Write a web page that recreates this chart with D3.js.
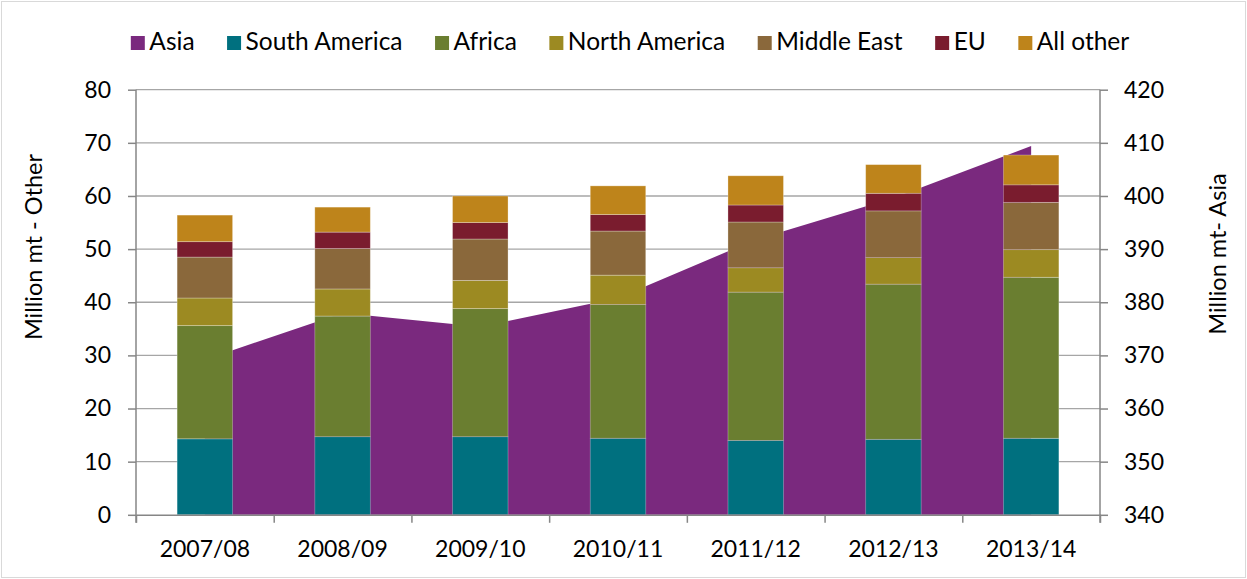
<!DOCTYPE html>
<html>
<head>
<meta charset="utf-8">
<script src="https://cdn.jsdelivr.net/npm/d3@7"></script>
<style>
  body { margin: 0; background: #fff; }
  svg text { font-family: Lato, "Open Sans", sans-serif; fill: #000; }
</style>
</head>
<body>
<div id="chart"></div>
<script>
// categories (marketing years)
var years = ["2007/08", "2008/09", "2009/10", "2010/11", "2011/12", "2012/13", "2013/14"];

// Asia, plotted as an area on the right axis (million mt)
var asia = [369.2, 378.0, 375.4, 380.8, 391.8, 399.6, 409.4];

// stacked bars, left axis (million mt)
var southAmerica = [14.3, 14.7, 14.7, 14.4, 14.0, 14.2, 14.4];
var africa       = [21.3, 22.7, 24.1, 25.2, 27.9, 29.2, 30.3];
var northAmerica = [5.2, 5.1, 5.3, 5.5, 4.6, 5.0, 5.2];
var middleEast   = [7.7, 7.6, 7.8, 8.3, 8.6, 8.8, 8.9];
var eu           = [2.9, 3.1, 3.1, 3.1, 3.2, 3.3, 3.3];
var allOther     = [5.0, 4.7, 5.0, 5.4, 5.5, 5.4, 5.6];

var leftTicks = [0, 10, 20, 30, 40, 50, 60, 70, 80];
var rightTicks = [340, 350, 360, 370, 380, 390, 400, 410, 420];

var barSeries = [
  {name: "South America", values: southAmerica, color: "#00707f"},
  {name: "Africa", values: africa, color: "#6a7e30"},
  {name: "North America", values: northAmerica, color: "#9c8a22"},
  {name: "Middle East", values: middleEast, color: "#8a683b"},
  {name: "EU", values: eu, color: "#7a1c2e"},
  {name: "All other", values: allOther, color: "#be841b"}
];
var asiaColor = "#7a297e";

var width = 1247, height = 579;
var margin = {left: 136, right: 147, top: 89.7, bottom: 64.2};
var plotW = width - margin.left - margin.right;
var plotH = height - margin.top - margin.bottom;
var axisColor = "#868686";

var svg = d3.select("#chart").append("svg")
  .attr("width", width)
  .attr("height", height);

// outer frame
svg.append("rect")
  .attr("x", 1.5).attr("y", 1.5)
  .attr("width", width - 3).attr("height", height - 3)
  .attr("fill", "#fff")
  .attr("stroke", "#d9d9d9");

var g = svg.append("g")
  .attr("transform", "translate(" + margin.left + "," + margin.top + ")");

var x = d3.scaleBand().domain(years).range([0, plotW])
  .paddingInner(0.597).paddingOuter(0.2985);
var xEdges = d3.scaleLinear().domain([0, years.length]).range([0, plotW]);
var yL = d3.scaleLinear().domain([0, 80]).range([plotH, 0]);
var yR = d3.scaleLinear().domain([340, 420]).range([plotH, 0]);

// gridlines
g.append("g").selectAll("line")
  .data(leftTicks.slice(1))
  .enter().append("line")
    .attr("x1", 0).attr("x2", plotW)
    .attr("y1", function(d) { return yL(d); })
    .attr("y2", function(d) { return yL(d); })
    .attr("stroke", "#a6a6a6")
    .attr("stroke-width", 1.3);

// Asia area
var area = d3.area()
  .x(function(d, i) { return x(years[i]) + x.bandwidth() / 2; })
  .y0(yR(340))
  .y1(function(d) { return yR(d); });

g.append("path")
  .datum(asia)
  .attr("fill", asiaColor)
  .attr("d", area);

// stacked bars
var rows = years.map(function(yr, i) {
  var r = {year: yr};
  barSeries.forEach(function(s) { r[s.name] = s.values[i]; });
  return r;
});
var stack = d3.stack().keys(barSeries.map(function(s) { return s.name; }));
var layers = stack(rows);

g.selectAll(".layer")
  .data(layers)
  .enter().append("g")
    .attr("class", "layer")
    .attr("fill", function(d, i) { return barSeries[i].color; })
  .selectAll("rect")
  .data(function(d) { return d; })
  .enter().append("rect")
    .attr("x", function(d) { return x(d.data.year); })
    .attr("width", x.bandwidth())
    .attr("y", function(d) { return yL(d[1]); })
    .attr("height", function(d) { return yL(d[0]) - yL(d[1]); })
    .attr("stroke", "rgba(255,255,255,0.35)")
    .attr("stroke-width", 0.8);

// axes
function styleAxis(sel) {
  sel.select(".domain").attr("stroke", axisColor).attr("stroke-width", 1.5);
  sel.selectAll(".tick line").attr("stroke", axisColor).attr("stroke-width", 1.5);
  sel.selectAll("text").attr("font-size", "23px").attr("fill", "#000")
    .style("font-family", "Lato, 'Open Sans', sans-serif");
}

g.append("g")
  .attr("transform", "translate(0," + plotH + ")")
  .call(d3.axisBottom(xEdges).tickValues(d3.range(years.length + 1))
    .tickFormat("").tickSize(8).tickSizeOuter(0))
  .call(styleAxis);

g.append("g")
  .attr("transform", "translate(0," + plotH + ")")
  .call(d3.axisBottom(x).tickSize(0).tickPadding(26))
  .call(function(s) { s.select(".domain").remove(); })
  .call(styleAxis);

g.append("g")
  .call(d3.axisLeft(yL).tickValues(leftTicks).tickSize(8).tickSizeOuter(0).tickPadding(17))
  .call(styleAxis)
  .call(function(s) { s.select(".domain").attr("d", "M0,0V" + (plotH + 8)); });

g.append("g")
  .attr("transform", "translate(" + plotW + ",0)")
  .call(d3.axisRight(yR).tickValues(rightTicks).tickSize(8).tickSizeOuter(0).tickPadding(16))
  .call(styleAxis)
  .call(function(s) { s.select(".domain").attr("d", "M0,0V" + (plotH + 8)); });

// axis titles
svg.append("text")
  .attr("transform", "translate(42,247) rotate(-90)")
  .attr("text-anchor", "middle")
  .attr("font-size", "23.5px")
  .text("Million mt - Other");

svg.append("text")
  .attr("transform", "translate(1226,254) rotate(-90)")
  .attr("text-anchor", "middle")
  .attr("font-size", "23.5px")
  .text("Million mt- Asia");

// legend
var legendItems = [{name: "Asia", color: asiaColor}].concat(barSeries);
var legend = svg.append("g");
var lx = 0;
legendItems.forEach(function(d) {
  var item = legend.append("g").attr("transform", "translate(" + lx + ",0)");
  item.append("rect")
    .attr("x", 0).attr("y", 36)
    .attr("width", 14).attr("height", 14)
    .attr("fill", d.color);
  var t = item.append("text")
    .attr("x", 18.5).attr("y", 50)
    .attr("font-size", "24.5px")
    .text(d.name);
  lx += 18.5 + t.node().getComputedTextLength() + 32.5;
});
var legendW = lx - 32.5;
legend.attr("transform", "translate(" + (630 - legendW / 2) + ",0)");
</script>
</body>
</html>
